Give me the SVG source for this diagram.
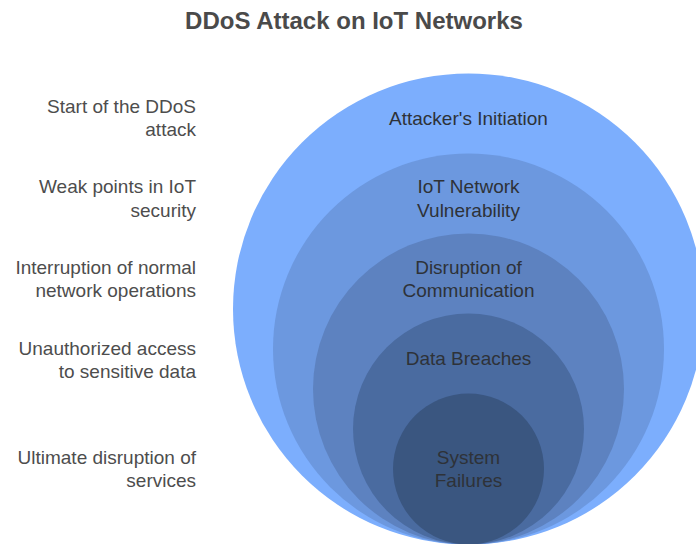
<svg xmlns="http://www.w3.org/2000/svg" width="696" height="544" viewBox="0 0 696 544">
<style>
.t{font-family:"Liberation Sans",Arial,sans-serif;font-size:19px;}
.side{fill:#4d4d4d;text-anchor:end;}
.in{fill:#2e3238;text-anchor:middle;}
.title{font-family:"Liberation Sans",Arial,sans-serif;font-size:24px;font-weight:bold;fill:#4a4a4a;text-anchor:middle;}
</style>
<rect width="696" height="544" fill="#ffffff"/>
<text class="title" x="354" y="29">DDoS Attack on IoT Networks</text>
<g id="ring1">
<circle cx="468.5" cy="309" r="235.5" fill="#7caefd"/>
<text class="t in" x="468.5" y="125">Attacker's Initiation</text>
</g>
<g id="ring2">
<circle cx="468.5" cy="349" r="195.5" fill="#6c98df"/>
<text class="t in" x="468.5" y="193">IoT Network</text>
<text class="t in" x="468.5" y="217">Vulnerability</text>
</g>
<g id="ring3">
<circle cx="468.5" cy="389" r="155.5" fill="#5d82c0"/>
<text class="t in" x="468.5" y="274">Disruption of</text>
<text class="t in" x="468.5" y="297">Communication</text>
</g>
<g id="ring4">
<circle cx="468.5" cy="429" r="115.5" fill="#4a6ba0"/>
<text class="t in" x="468.5" y="365">Data Breaches</text>
</g>
<g id="ring5">
<circle cx="468.5" cy="469" r="75.5" fill="#3a5680"/>
<text class="t in" x="468.5" y="464">System</text>
<text class="t in" x="468.5" y="487">Failures</text>
</g>
<g id="labels">
<text class="t side" x="196" y="113">Start of the DDoS</text>
<text class="t side" x="196" y="136">attack</text>
<text class="t side" x="196" y="193">Weak points in IoT</text>
<text class="t side" x="196" y="217">security</text>
<text class="t side" x="196" y="274">Interruption of normal</text>
<text class="t side" x="196" y="297">network operations</text>
<text class="t side" x="196" y="355">Unauthorized access</text>
<text class="t side" x="196" y="378">to sensitive data</text>
<text class="t side" x="196" y="464">Ultimate disruption of</text>
<text class="t side" x="196" y="487">services</text>
</g>
</svg>
